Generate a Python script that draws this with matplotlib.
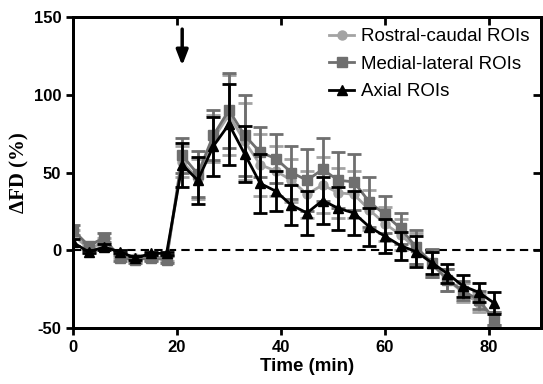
import matplotlib
matplotlib.use('Agg')
import matplotlib.pyplot as plt
from matplotlib.lines import Line2D

# time points (min)
time = [0, 3, 6, 9, 12, 15, 18, 21, 24, 27, 30, 33, 36, 39, 42, 45, 48, 51, 54, 57, 60, 63, 66, 69, 72, 75, 78, 81]

# mean dFD (%) and SEM for each ROI group
rostral = [10, 1, 5, -3, -5, -4, -5, 57, 46, 72, 87, 70, 55, 51, 45, 36, 42, 37, 36, 26, 17, 10, 1, -9, -19, -27, -34, -44]
rostral_err = [3, 2, 3, 2, 2, 2, 2, 10, 13, 15, 26, 25, 20, 16, 14, 15, 18, 16, 15, 13, 11, 10, 10, 8, 7, 6, 6, 4]

medial = [13, 3, 8, -5, -6, -5, -6, 61, 49, 74, 90, 74, 63, 59, 50, 45, 52, 45, 44, 31, 23, 14, 2, -8, -19, -26, -32, -44]
medial_err = [3, 2, 3, 2, 2, 2, 2, 11, 15, 16, 24, 26, 16, 16, 17, 20, 20, 18, 18, 16, 12, 10, 11, 9, 7, 6, 6, 4]

axial = [5, -1, 2, -1, -5, -2, -2, 55, 45, 67, 81, 62, 43, 38, 29, 24, 32, 27, 24, 15, 9, 3, -1, -8, -15, -23, -27, -34]
axial_err = [2, 1, 2, 1, 1, 1, 1, 14, 15, 19, 26, 18, 19, 13, 13, 14, 15, 14, 14, 12, 11, 9, 10, 7, 6, 7, 6, 7]

labels = ['Rostral-caudal ROIs', 'Medial-lateral ROIs', 'Axial ROIs']
colors = ['#a3a3a3', '#6f6f6f', 'black']
markers = ['o', 's', '^']

plt.rcParams['font.family'] = ['Liberation Sans', 'DejaVu Sans']
plt.rcParams['axes.unicode_minus'] = False

fig = plt.figure(figsize=(5.43, 3.84), dpi=100)
ax = fig.add_axes([0.1344, 0.1458, 0.8619, 0.8099])

ax.axhline(0, color='black', linestyle=(0, (4, 2.5)), linewidth=1.5, zorder=1)

for i, (y, err) in enumerate([(rostral, rostral_err), (medial, medial_err), (axial, axial_err)]):
    ax.errorbar(time, y, yerr=err, color=colors[i], marker=markers[i], markersize=6.5,
                linewidth=2, elinewidth=2, capsize=5, capthick=2, zorder=2 + i)

# stimulus onset
ax.annotate('', xy=(21, 117), xytext=(21, 144),
            arrowprops=dict(arrowstyle='-|>,head_width=0.35,head_length=0.9', color='black', lw=2.5))

ax.set_xlim(0, 90)
ax.set_ylim(-50, 150)
ax.set_xticks([0, 20, 40, 60, 80])
ax.set_yticks([-50, 0, 50, 100, 150])

for s in ax.spines.values():
    s.set_linewidth(2)

ax.tick_params(axis='both', direction='out', length=5, width=2, labelsize=12)
for lab in ax.get_xticklabels() + ax.get_yticklabels():
    lab.set_fontweight('bold')

# inward ticks on top and right
ax_top = ax.twiny()
ax_top.set_xlim(ax.get_xlim())
ax_top.set_xticks([20, 40, 60, 80])
ax_top.tick_params(axis='x', direction='in', length=6, width=2, labeltop=False)
ax_right = ax.twinx()
ax_right.set_ylim(ax.get_ylim())
ax_right.set_yticks([0, 50, 100])
ax_right.tick_params(axis='y', direction='in', length=6, width=2, labelright=False)
for a in (ax_top, ax_right):
    for s in a.spines.values():
        s.set_linewidth(2)

ax.set_xlabel('Time (min)', fontsize=13.5, fontweight='bold', labelpad=2)
ax.set_ylabel('\u0394FD (%)', fontsize=15, fontweight='bold',
              family=['Liberation Serif', 'DejaVu Serif'], labelpad=3)

handles = [Line2D([], [], color=c, marker=m, markersize=6.5, linewidth=2) for c, m in zip(colors, markers)]
ax_right.legend(handles, labels, loc='upper right', bbox_to_anchor=(1.0, 1.0), frameon=False, fontsize=13.5,
                handlelength=1.3, handletextpad=0.4, labelspacing=0.55, borderaxespad=0.2)

fig.savefig('out.png', dpi=100)
